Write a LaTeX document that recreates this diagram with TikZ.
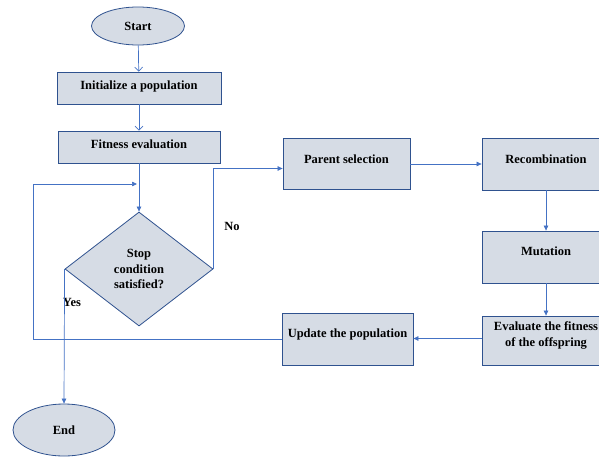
\documentclass[tikz,border=0pt]{standalone}
\usepackage{fontspec}
\setmainfont{Liberation Serif}
\usepackage{xcolor}
\definecolor{boxfill}{RGB}{214,220,229}
\definecolor{boxline}{RGB}{47,82,143}
\definecolor{flowline}{RGB}{68,114,196}
\usepackage{tikz}
\usetikzlibrary{shapes.geometric,arrows.meta}
\tikzstyle{process} = [rectangle, draw=boxline, fill=boxfill, line width=0.8pt,
  font=\bfseries\fontsize{12.5}{16}\selectfont, align=center, inner sep=0pt,
  text height=9pt]
\tikzstyle{terminal} = [ellipse, draw=boxline, fill=boxfill, line width=0.8pt,
  font=\bfseries\fontsize{12.5}{16}\selectfont, inner sep=0pt]
\tikzstyle{decision} = [diamond, draw=boxline, fill=boxfill, line width=0.8pt,
  font=\bfseries\fontsize{12.5}{15.5}\selectfont, align=center, inner sep=0pt]
\tikzstyle{flow} = [draw=flowline, line width=0.7pt,
  -{Triangle[length=5pt,width=4.5pt]}]
\tikzstyle{openflow} = [draw=flowline, line width=0.7pt,
  -{Straight Barb[length=4pt,width=8pt]}]
\tikzstyle{answer} = [font=\bfseries\fontsize{12.5}{15}\selectfont]

\begin{document}
\begin{tikzpicture}[x=1pt, y=-1pt]
  \clip (0,0) rectangle (599,458);
  % left column
  \node[terminal, minimum width=93pt, minimum height=38pt] (start) at (138,26) {Start};
  \node[process, minimum width=164pt, minimum height=32pt, text depth=6.6pt]
    (init) at (139,88) {Initialize a population};
  \node[process, minimum width=162pt, minimum height=32pt, text depth=6.6pt]
    (fitness) at (139,147) {Fitness evaluation};
  \node[decision, minimum width=148pt, minimum height=114pt] (stop) at (139,269)
    {Stop\\condition\\satisfied?};
  \node[terminal, minimum width=102pt, minimum height=52pt] (end) at (64,430) {End};
  % right part
  \node[process, minimum width=127pt, minimum height=51pt, text depth=10.6pt]
    (parent) at (346.5,164) {Parent selection};
  \node[process, minimum width=128pt, minimum height=52pt, text depth=10.6pt]
    (recomb) at (546,164) {Recombination};
  \node[process, minimum width=128pt, minimum height=52pt, text depth=12.6pt]
    (mutation) at (546,257) {Mutation};
  \node[process, minimum width=128pt, minimum height=49pt, text height=12.4pt,
    text depth=0pt] (evaluate) at (546,340.5) {Evaluate the fitness\\of the offspring};
  \node[process, minimum width=131pt, minimum height=52pt, text depth=12.6pt]
    (update) at (347.5,339) {Update the population};
  % answers
  \node[answer] (no) at (232,226) {No};
  \node[answer] (yes) at (72,302) {Yes};
  % loop back
  \coordinate (loopturn) at (33,184);
  \coordinate (loopin) at (137,184);
  \draw[openflow] (start) -- (init);
  \draw[openflow] (init) -- (fitness);
  \draw[flow] (fitness) -- (stop.north);
  \draw[flow] (stop.east) |- ([yshift=-4.5pt]parent.west);
  \draw[flow] (stop.west) -- (end.north);
  \draw[flow] (parent) -- (recomb);
  \draw[flow] (recomb) -- (mutation);
  \draw[flow] (mutation) -- (evaluate);
  \draw[flow] ([yshift=2pt]evaluate.west) -- ([yshift=2pt]evaluate.west -| update.east);
  \draw[draw=flowline, line width=0.7pt] (update.west) -| (loopturn);
  \draw[flow] (loopturn) -- (loopin);
\end{tikzpicture}
\end{document}
